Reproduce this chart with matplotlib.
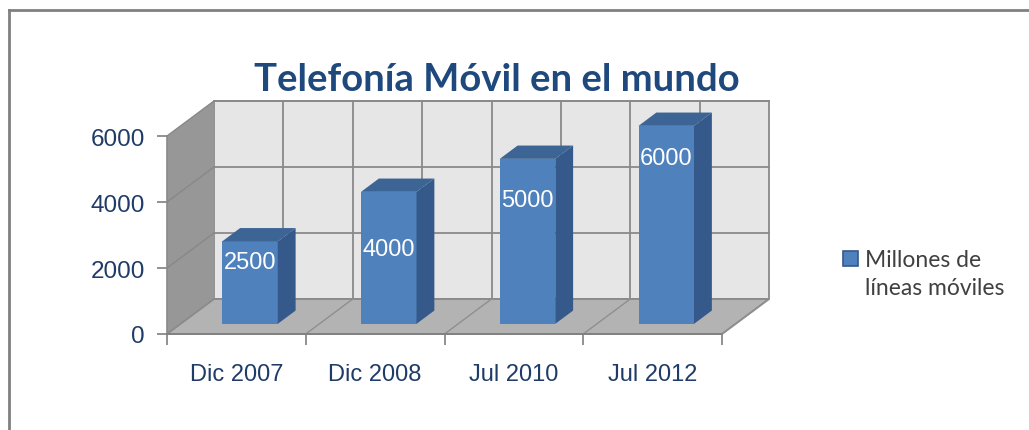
import numpy as np
import matplotlib
matplotlib.use("Agg")
import matplotlib.pyplot as plt
from matplotlib.patches import Polygon, Rectangle

# data
categories = ['Dic 2007', 'Dic 2008', 'Jul 2010', 'Jul 2012']
values = [2500, 4000, 5000, 6000]
series_name = 'Millones de\nlíneas móviles'
yticks = [0, 2000, 4000, 6000]
# where the white value label sits, as a share of the bar height
label_frac = [0.75, 0.57, 0.75, 0.84]

W, H = 1029, 431
fig = plt.figure(figsize=(W / 100, H / 100), dpi=100)

# front plane of the 3D box, in pixels
px_left, px_right, px_bottom, px_top = 167, 722, 335, 137
ax = fig.add_axes([px_left / W, 1 - px_bottom / H,
                   (px_right - px_left) / W, (px_bottom - px_top) / H])
n = len(categories)
ymax = yticks[-1]
ax.set_xlim(0, n)
ax.set_ylim(0, ymax)

# depth vector (x in category units, y in value units)
DX = 47 / ((px_right - px_left) / n)
DY = 35 * ymax / (px_bottom - px_top)

wall_back = '#e6e6e6'
wall_side = '#979797'
floor_col = '#b3b3b3'
grid_col = '#8a8a8a'

# back wall
ax.add_patch(Polygon([(DX, DY), (n + DX, DY), (n + DX, ymax + DY), (DX, ymax + DY)],
                     closed=True, fc=wall_back, ec=grid_col, lw=1.3, clip_on=False, zorder=1))
# left wall
ax.add_patch(Polygon([(0, 0), (DX, DY), (DX, ymax + DY), (0, ymax)],
                     closed=True, fc=wall_side, ec='none', clip_on=False, zorder=1))
# floor
ax.add_patch(Polygon([(0, 0), (n, 0), (n + DX, DY), (DX, DY)],
                     closed=True, fc=floor_col, ec=grid_col, lw=1.3, clip_on=False, zorder=1))

# gridlines on back and side walls
for v in yticks[1:]:
    ax.plot([DX, n + DX], [v + DY, v + DY], color=grid_col, lw=1.3, clip_on=False, zorder=2)
    ax.plot([0, DX], [v, v + DY], color='#888888', lw=1.0, clip_on=False, zorder=2)
for k in np.arange(0.5, n, 0.5):
    ax.plot([k + DX, k + DX], [DY, ymax + DY], color=grid_col, lw=1.3, clip_on=False, zorder=2)
for k in range(1, n + 1):
    ax.plot([k, k + DX], [0, DY], color='#8f8f8f', lw=1.0, clip_on=False, zorder=2)

# bars
front_col = '#4f81bd'
side_col = '#34598a'
top_col = '#3c6596'
d0, d1 = 0.29, 0.38
bar_w = 0.40
x = np.arange(n) + 0.5 + d0 * DX
base = d0 * DY
bdx, bdy = d1 * DX, d1 * DY
ax.bar(x, values, width=bar_w, bottom=base, color=front_col, zorder=5, clip_on=False)
for xi, v, f in zip(x, values, label_frac):
    r = xi + bar_w / 2
    l = xi - bar_w / 2
    t = v + base
    ax.add_patch(Polygon([(r, base), (r + bdx, base + bdy), (r + bdx, t + bdy), (r, t)],
                         closed=True, fc=side_col, ec='none', zorder=5, clip_on=False))
    ax.add_patch(Polygon([(l, t), (r, t), (r + bdx, t + bdy), (l + bdx, t + bdy)],
                         closed=True, fc=top_col, ec='none', zorder=5, clip_on=False))
    ax.text(xi, base + v * f, f'{v}', ha='center', va='center', color='white',
            fontsize=17, family='Liberation Sans', zorder=6)

# axes
for s in ['top', 'right']:
    ax.spines[s].set_visible(False)
ax.spines['left'].set_color('#8a8a8a')
ax.spines['bottom'].set_color('#7f7f7f')
ax.spines['left'].set_linewidth(1.2)
ax.spines['bottom'].set_linewidth(1.2)
ax.set_yticks(yticks)
ax.set_yticklabels([str(t) for t in yticks], fontsize=17.5, family='Liberation Sans', color='#1f3b68')
ax.tick_params(axis='y', length=7, width=1.2, color='#7f7f7f', pad=9)
ax.set_xticks(range(n + 1))
ax.set_xticklabels([])
ax.tick_params(axis='x', which='major', length=8, width=1.2, color='#7f7f7f')
ax.set_xticks(np.arange(n) + 0.5, minor=True)
ax.set_xticklabels(categories, minor=True, fontsize=17, family='Liberation Sans', color='#1f3b68')
ax.tick_params(axis='x', which='minor', length=0, pad=21)
ax.patch.set_visible(False)

# title
fig.text(497 / W, 1 - 91 / H, 'Telefonía Móvil en el mundo', ha='center', va='baseline',
         fontsize=27.5, fontweight='bold', family='Lato', color='#1f497d')

# legend
fig.patches.append(Rectangle((843 / W, 1 - 267 / H), 15 / W, 15 / H, transform=fig.transFigure,
                             fc=front_col, ec='#34598a', lw=1.2))
for i, line in enumerate(series_name.split('\n')):
    fig.text(865 / W, 1 - (267 + 28 * i) / H, line, ha='left', va='baseline', fontsize=16.5,
             family='Lato', color='#404040')

# chart border
fig.add_artist(plt.Line2D([9 / W, 1], [1 - 11 / H, 1 - 11 / H], color='#808080', lw=2))
fig.add_artist(plt.Line2D([9 / W, 9 / W], [0, 1 - 11 / H], color='#808080', lw=2))

fig.savefig('out.png', dpi=100)
